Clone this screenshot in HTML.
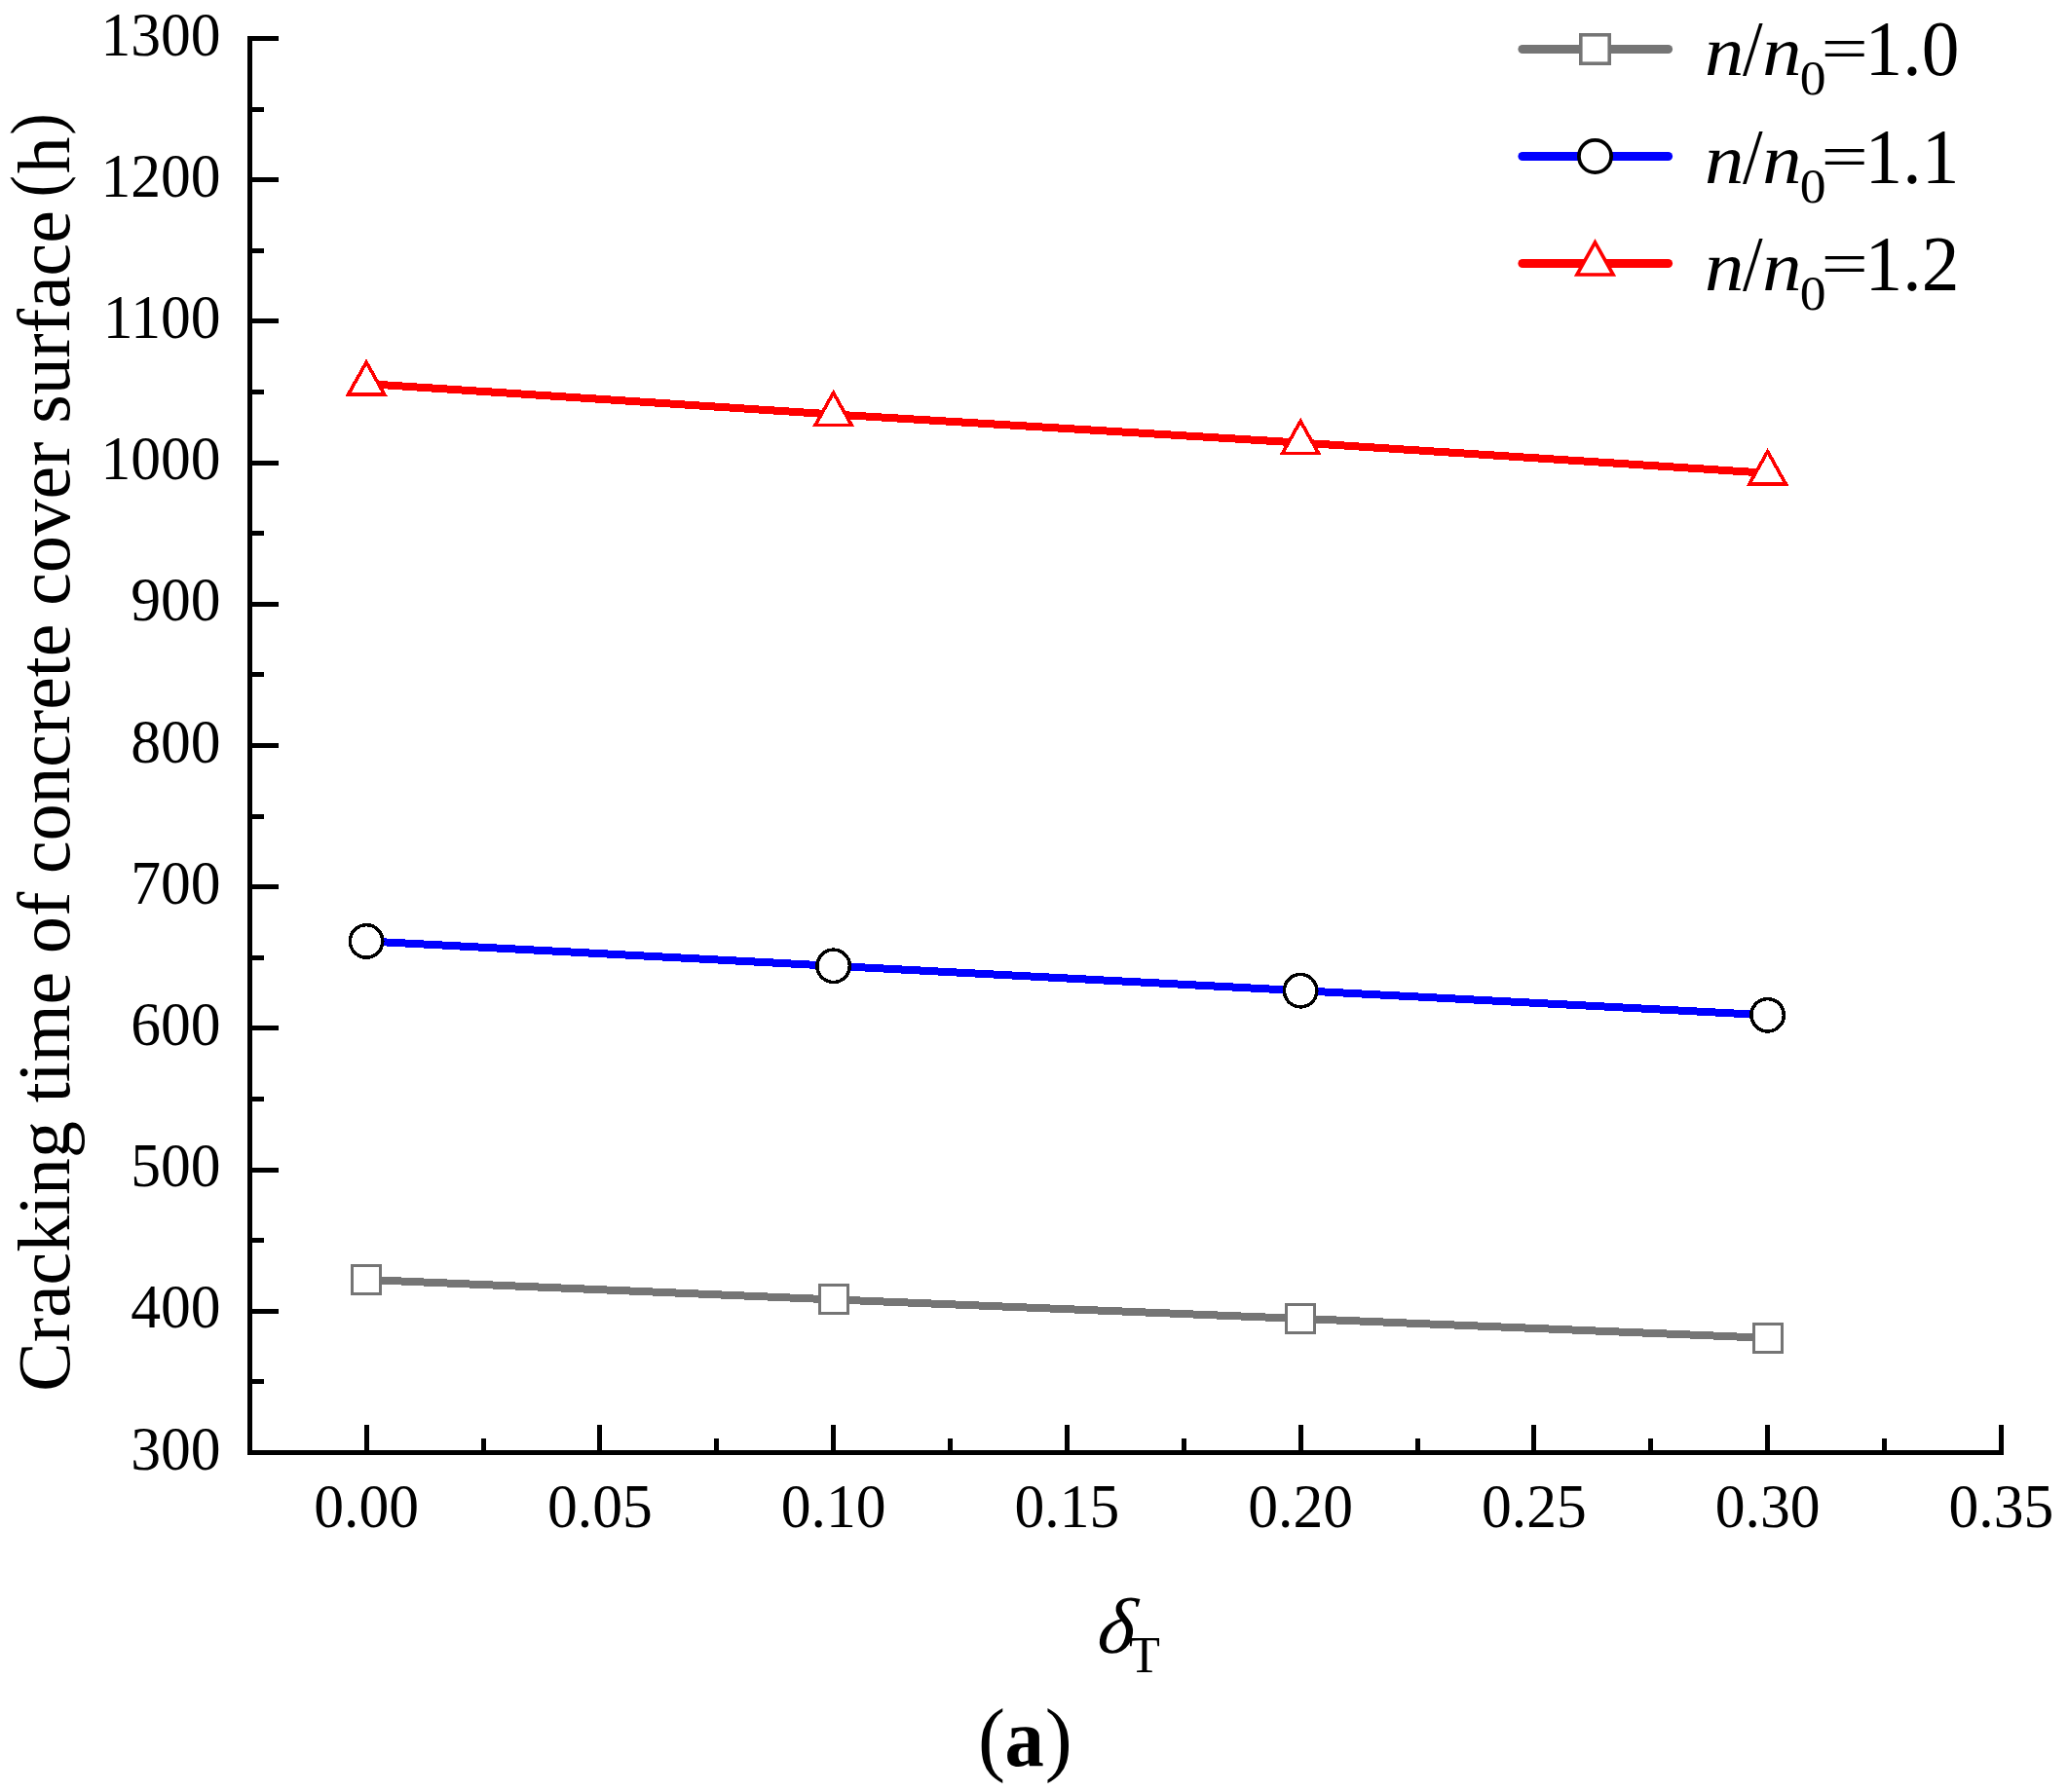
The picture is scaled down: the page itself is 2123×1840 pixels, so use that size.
<!DOCTYPE html>
<html lang="en"><head><meta charset="utf-8"><title>Cracking time of concrete cover surface</title>
<style>html,body{margin:0;padding:0;background:#fff;}body{width:2123px;height:1840px;overflow:hidden;}svg{display:block;}</style></head>
<body>
<svg width="2123" height="1840" viewBox="0 0 2123 1840">
<rect width="2123" height="1840" fill="#fff"/>
<g fill="#000" shape-rendering="crispEdges">
<rect x="254" y="37" width="5" height="1457"/>
<rect x="254" y="1489" width="1803" height="5"/>
<rect x="254" y="1489.0" width="32" height="5"/>
<rect x="254" y="1416.4" width="17" height="5"/>
<rect x="254" y="1343.8" width="32" height="5"/>
<rect x="254" y="1271.2" width="17" height="5"/>
<rect x="254" y="1198.6" width="32" height="5"/>
<rect x="254" y="1126.0" width="17" height="5"/>
<rect x="254" y="1053.4" width="32" height="5"/>
<rect x="254" y="980.8" width="17" height="5"/>
<rect x="254" y="908.2" width="32" height="5"/>
<rect x="254" y="835.6" width="17" height="5"/>
<rect x="254" y="763.0" width="32" height="5"/>
<rect x="254" y="690.4" width="17" height="5"/>
<rect x="254" y="617.8" width="32" height="5"/>
<rect x="254" y="545.2" width="17" height="5"/>
<rect x="254" y="472.6" width="32" height="5"/>
<rect x="254" y="400.0" width="17" height="5"/>
<rect x="254" y="327.4" width="32" height="5"/>
<rect x="254" y="254.8" width="17" height="5"/>
<rect x="254" y="182.2" width="32" height="5"/>
<rect x="254" y="109.6" width="17" height="5"/>
<rect x="254" y="37.0" width="32" height="5"/>
<rect x="373.6" y="1463" width="5" height="31"/>
<rect x="493.5" y="1477" width="5" height="17"/>
<rect x="613.4" y="1463" width="5" height="31"/>
<rect x="733.2" y="1477" width="5" height="17"/>
<rect x="853.1" y="1463" width="5" height="31"/>
<rect x="973.0" y="1477" width="5" height="17"/>
<rect x="1092.9" y="1463" width="5" height="31"/>
<rect x="1212.7" y="1477" width="5" height="17"/>
<rect x="1332.6" y="1463" width="5" height="31"/>
<rect x="1452.5" y="1477" width="5" height="17"/>
<rect x="1572.3" y="1463" width="5" height="31"/>
<rect x="1692.2" y="1477" width="5" height="17"/>
<rect x="1812.1" y="1463" width="5" height="31"/>
<rect x="1932.0" y="1477" width="5" height="17"/>
<rect x="2051.9" y="1463" width="5" height="31"/>
</g>
<g font-family="'Liberation Serif', 'Times New Roman', serif" fill="#000">
<text transform="translate(226.60 1508.50) scale(1 1.045)" font-size="61.6" text-anchor="end">300</text>
<text transform="translate(226.60 1363.30) scale(1 1.045)" font-size="61.6" text-anchor="end">400</text>
<text transform="translate(226.60 1218.10) scale(1 1.045)" font-size="61.6" text-anchor="end">500</text>
<text transform="translate(226.60 1072.90) scale(1 1.045)" font-size="61.6" text-anchor="end">600</text>
<text transform="translate(226.60 927.70) scale(1 1.045)" font-size="61.6" text-anchor="end">700</text>
<text transform="translate(226.60 782.50) scale(1 1.045)" font-size="61.6" text-anchor="end">800</text>
<text transform="translate(226.60 637.30) scale(1 1.045)" font-size="61.6" text-anchor="end">900</text>
<text transform="translate(226.60 492.10) scale(1 1.045)" font-size="61.6" text-anchor="end">1000</text>
<text transform="translate(226.60 346.90) scale(1 1.045)" font-size="61.6" text-anchor="end">1100</text>
<text transform="translate(226.60 201.70) scale(1 1.045)" font-size="61.6" text-anchor="end">1200</text>
<text transform="translate(226.60 56.50) scale(1 1.045)" font-size="61.6" text-anchor="end">1300</text>
<text transform="translate(376.10 1567.80) scale(1 1.045)" font-size="61.6" text-anchor="middle">0.00</text>
<text transform="translate(615.85 1567.80) scale(1 1.045)" font-size="61.6" text-anchor="middle">0.05</text>
<text transform="translate(855.60 1567.80) scale(1 1.045)" font-size="61.6" text-anchor="middle">0.10</text>
<text transform="translate(1095.35 1567.80) scale(1 1.045)" font-size="61.6" text-anchor="middle">0.15</text>
<text transform="translate(1335.10 1567.80) scale(1 1.045)" font-size="61.6" text-anchor="middle">0.20</text>
<text transform="translate(1574.85 1567.80) scale(1 1.045)" font-size="61.6" text-anchor="middle">0.25</text>
<text transform="translate(1814.60 1567.80) scale(1 1.045)" font-size="61.6" text-anchor="middle">0.30</text>
<text transform="translate(2054.35 1567.80) scale(1 1.045)" font-size="61.6" text-anchor="middle">0.35</text>
</g>
<g shape-rendering="crispEdges">
<polyline points="376.10,1314.00 855.60,1334.40 1335.10,1354.00 1814.60,1373.80" fill="none" stroke="#757575" stroke-width="8" stroke-linejoin="round"/>
<rect x="361.60" y="1299.50" width="29.0" height="29.0" fill="#fff" stroke="#757575" stroke-width="3.0"/>
<rect x="841.10" y="1319.90" width="29.0" height="29.0" fill="#fff" stroke="#757575" stroke-width="3.0"/>
<rect x="1320.60" y="1339.50" width="29.0" height="29.0" fill="#fff" stroke="#757575" stroke-width="3.0"/>
<rect x="1800.10" y="1359.30" width="29.0" height="29.0" fill="#fff" stroke="#757575" stroke-width="3.0"/>
<polyline points="376.10,966.40 855.60,991.80 1335.10,1017.20 1814.60,1042.30" fill="none" stroke="#0000ff" stroke-width="8" stroke-linejoin="round"/>
<circle cx="376.10" cy="966.40" r="16.7" fill="#fff" stroke="#000" stroke-width="3.5"/>
<circle cx="855.60" cy="991.80" r="16.7" fill="#fff" stroke="#000" stroke-width="3.5"/>
<circle cx="1335.10" cy="1017.20" r="16.7" fill="#fff" stroke="#000" stroke-width="3.5"/>
<circle cx="1814.60" cy="1042.30" r="16.7" fill="#fff" stroke="#000" stroke-width="3.5"/>
<polyline points="376.10,394.10 855.60,425.50 1335.10,454.60 1814.60,485.80" fill="none" stroke="#ff0000" stroke-width="8" stroke-linejoin="round"/>
<polygon points="376.10,371.90 394.70,405.10 357.50,405.10" fill="#fff" stroke="#ff0000" stroke-width="3.6" stroke-linejoin="miter"/>
<polygon points="855.60,403.30 874.20,436.50 837.00,436.50" fill="#fff" stroke="#ff0000" stroke-width="3.6" stroke-linejoin="miter"/>
<polygon points="1335.10,432.40 1353.70,465.60 1316.50,465.60" fill="#fff" stroke="#ff0000" stroke-width="3.6" stroke-linejoin="miter"/>
<polygon points="1814.60,463.60 1833.20,496.80 1796.00,496.80" fill="#fff" stroke="#ff0000" stroke-width="3.6" stroke-linejoin="miter"/>
</g>
<g font-family="'Liberation Serif', 'Times New Roman', serif" fill="#000">
<line x1="1563" y1="50.5" x2="1712.5" y2="50.5" stroke="#757575" stroke-width="9.2" stroke-linecap="round"/>
<rect x="1622.80" y="35.80" width="29.4" height="29.4" fill="#fff" stroke="#757575" stroke-width="3.6"/>
<text y="77.00" font-size="79.7"><tspan x="1750.1" font-size="72.8" font-style="italic" textLength="40.3" lengthAdjust="spacingAndGlyphs">n</tspan><tspan x="1789.1" textLength="20.6" lengthAdjust="spacingAndGlyphs">/</tspan><tspan x="1809.3" font-size="72.8" font-style="italic" textLength="40.3" lengthAdjust="spacingAndGlyphs">n</tspan><tspan x="1847.8" y="97.00" font-size="50" textLength="26.8" lengthAdjust="spacingAndGlyphs">0</tspan><tspan x="1869.6" y="71.35" font-size="64" textLength="48.4" lengthAdjust="spacingAndGlyphs">=</tspan><tspan x="1914.6" y="77.00" textLength="96.8" lengthAdjust="spacingAndGlyphs">1.0</tspan></text>
<line x1="1563" y1="160.5" x2="1712.5" y2="160.5" stroke="#0000ff" stroke-width="9.2" stroke-linecap="round"/>
<circle cx="1637.50" cy="160.50" r="16.6" fill="#fff" stroke="#000" stroke-width="3.8"/>
<text y="188.00" font-size="79.7"><tspan x="1750.1" font-size="72.8" font-style="italic" textLength="40.3" lengthAdjust="spacingAndGlyphs">n</tspan><tspan x="1789.1" textLength="20.6" lengthAdjust="spacingAndGlyphs">/</tspan><tspan x="1809.3" font-size="72.8" font-style="italic" textLength="40.3" lengthAdjust="spacingAndGlyphs">n</tspan><tspan x="1847.8" y="208.00" font-size="50" textLength="26.8" lengthAdjust="spacingAndGlyphs">0</tspan><tspan x="1869.6" y="182.35" font-size="64" textLength="48.4" lengthAdjust="spacingAndGlyphs">=</tspan><tspan x="1914.6" y="188.00" textLength="96.8" lengthAdjust="spacingAndGlyphs">1.1</tspan></text>
<line x1="1563" y1="270.5" x2="1712.5" y2="270.5" stroke="#ff0000" stroke-width="9.2" stroke-linecap="round"/>
<polygon points="1637.50,248.80 1656.10,282.00 1618.90,282.00" fill="#fff" stroke="#ff0000" stroke-width="3.6" stroke-linejoin="miter"/>
<text y="298.00" font-size="79.7"><tspan x="1750.1" font-size="72.8" font-style="italic" textLength="40.3" lengthAdjust="spacingAndGlyphs">n</tspan><tspan x="1789.1" textLength="20.6" lengthAdjust="spacingAndGlyphs">/</tspan><tspan x="1809.3" font-size="72.8" font-style="italic" textLength="40.3" lengthAdjust="spacingAndGlyphs">n</tspan><tspan x="1847.8" y="318.00" font-size="50" textLength="26.8" lengthAdjust="spacingAndGlyphs">0</tspan><tspan x="1869.6" y="292.35" font-size="64" textLength="48.4" lengthAdjust="spacingAndGlyphs">=</tspan><tspan x="1914.6" y="298.00" textLength="96.8" lengthAdjust="spacingAndGlyphs">1.2</tspan></text>
</g>
<g font-family="'Liberation Serif', 'Times New Roman', serif" fill="#000">
<text transform="translate(71.2 1428.7) rotate(-90)" font-size="75.7">Cracking time of concrete cover surface <tspan x="1226.2" y="-9.6" font-size="74" textLength="22.5" lengthAdjust="spacingAndGlyphs">(</tspan><tspan x="1250.5" y="0">h</tspan><tspan x="1289.9" y="-9.6" font-size="74" textLength="22.5" lengthAdjust="spacingAndGlyphs">)</tspan></text>
<text transform="translate(1125 1696.6) skewX(-7)" font-size="81" font-style="italic">δ</text><text x="1159" y="1716.8" font-size="52.2">T</text>
<text y="1812.5" font-size="84"><tspan x="1004">(</tspan><tspan x="1031.5" font-weight="bold" textLength="40.3" lengthAdjust="spacingAndGlyphs">a</tspan><tspan x="1072.7">)</tspan></text>
</g>
</svg>
</body></html>
